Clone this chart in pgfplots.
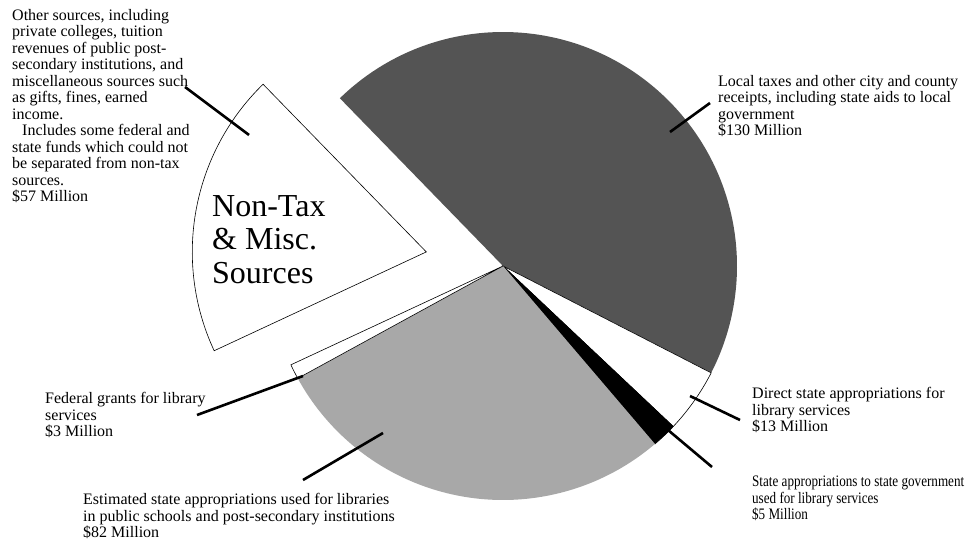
\documentclass[border=0pt]{standalone}
\usepackage{pgfplots}
\pgfplotsset{compat=1.18}
\usepackage{fontspec}
\setmainfont{Liberation Serif}
\definecolor{piedark}{RGB}{84,84,84}
\definecolor{pielight}{RGB}{168,168,168}
\begin{document}
\begin{tikzpicture}
\begin{axis}[x=1pt,y=1pt,xmin=0,xmax=968,ymin=0,ymax=542,
  hide axis, clip=false, scale only axis]
\path (rel axis cs:0,0) rectangle (rel axis cs:1,1);
% pie: value / fill / border / explode offset
\def\pietotal{290}
\xdef\pieangle{134.2}
\foreach \v/\c/\d/\e in {130/piedark/none/0, 13/white/black/0, 5/black/black/0, 82/pielight/none/0, 3/white/black/0, 57/white/black/78}{%
  \pgfmathsetmacro\sa{\pieangle}%
  \pgfmathsetmacro\ea{\pieangle-\v/\pietotal*360}%
  \pgfmathsetmacro\ma{(\sa+\ea)/2}%
  \pgfmathsetmacro\ox{503+\e*cos(\ma)}%
  \pgfmathsetmacro\oy{276+\e*sin(\ma)}%
  \edef\temp{\noexpand\filldraw[fill=\c,draw=\d,line width=0.6pt,line join=miter] (axis cs:\ox,\oy) -- ++(\sa:234pt) arc[start angle=\sa,end angle=\ea,radius=234pt] -- cycle;}%
  \temp
  \xdef\pieangle{\ea}%
}
% leader lines
\addplot[black,line width=2.6pt,no marks] coordinates {(185,455) (249,407)};
\addplot[black,line width=2.6pt,no marks] coordinates {(710,439) (670,410)};
\addplot[black,line width=2.6pt,no marks] coordinates {(740,122) (690,146)};
\addplot[black,line width=2.6pt,no marks] coordinates {(712,75) (668,112)};
\addplot[black,line width=2.6pt,no marks] coordinates {(197,127) (303,166)};
\addplot[black,line width=2.6pt,no marks] coordinates {(303,62) (383,109)};
% labels
\tikzset{lab/.style={anchor=north west,align=left,inner sep=0pt,font=\fontsize{16}{16.5}\selectfont}}
\node[lab] at (axis cs:12,532.9) {Other sources, including\\private colleges, tuition\\revenues of public post-\\secondary institutions, and\\miscellaneous sources such\\as gifts, fines, earned\\income.\\\hspace*{10pt}Includes some federal and\\state funds which could not\\be separated from non-tax\\sources.\\\$57 Million};
\node[lab] at (axis cs:718,466.9) {Local taxes and other city and county\\receipts, including state aids to local\\government\\\$130 Million};
\node[lab] at (axis cs:752,154.9) {Direct state appropriations for\\library services\\\$13 Million};
\node[lab,xscale=0.82,transform shape] at (axis cs:752,65.9) {State appropriations to state government\\used for library services\\\$5 Million};
\node[lab] at (axis cs:45,149.9) {Federal grants for library\\services\\\$3 Million};
\node[lab] at (axis cs:83,48.9) {Estimated state appropriations used for libraries\\in public schools and post-secondary institutions\\\$82 Million};
\node[anchor=north west,align=left,inner sep=0pt,font=\fontsize{32}{33.5}\selectfont] at (axis cs:212,347) {Non-Tax\\\& Misc.\\Sources};
\end{axis}
\end{tikzpicture}
\end{document}
